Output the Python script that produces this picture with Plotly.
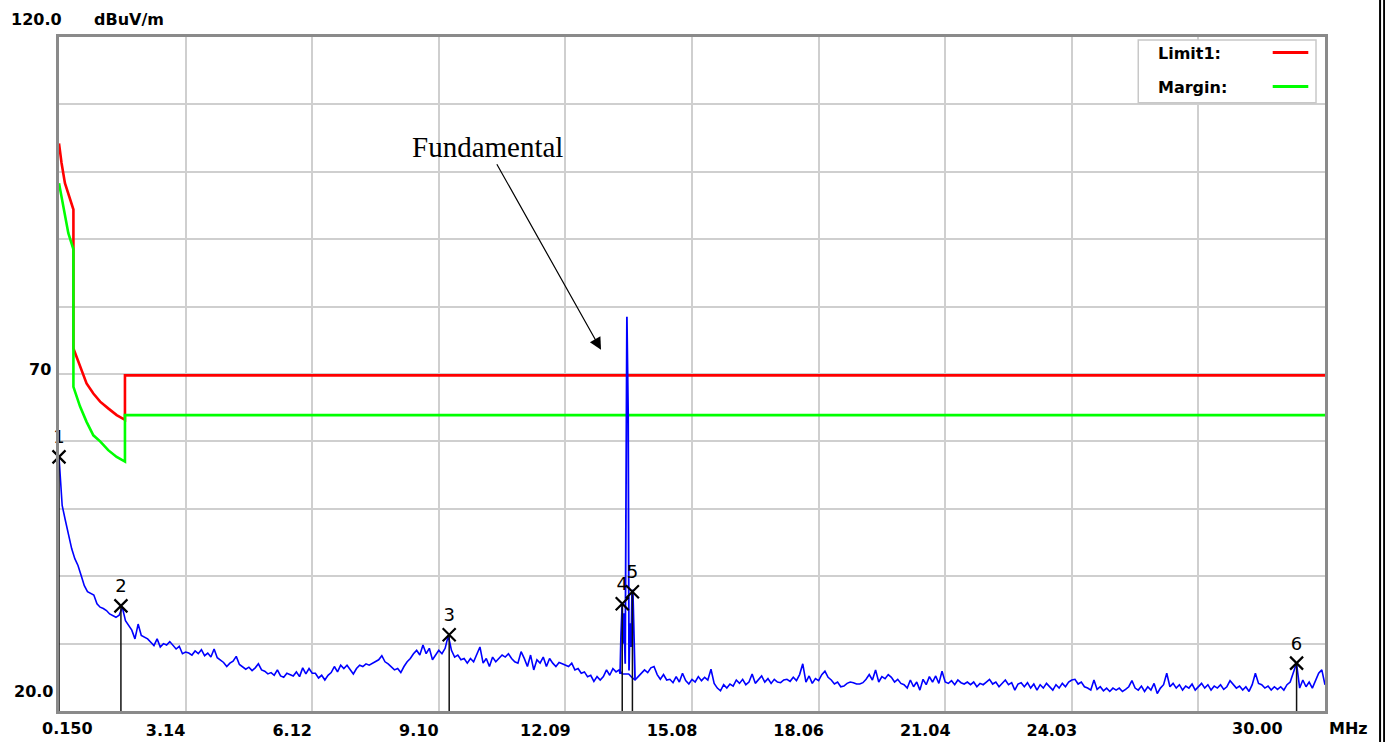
import plotly.graph_objects as go

# ---------------- data ----------------
# Sweep: start frequency and step (MHz) of the measured trace
sweep_start_mhz = 0.15
sweep_step_mhz = 0.074625

level_div1 = [57.7, 50.5, 48.3, 46.0, 44.1, 42.6, 41.6, 40.1, 38.6, 37.7,
              37.4, 37.2, 35.9, 35.4, 35.2, 34.9, 34.4, 34.2, 33.9, 34.2,
              35.4, 33.4, 32.7, 32.0, 30.7, 32.9, 31.2, 31.0, 30.7, 30.2,
              29.7, 30.7, 29.5, 30.0, 29.8, 30.3, 29.7, 29.2, 29.6, 28.5]
level_div2 = [28.75, 28.6, 28.3, 28.9, 28.5, 29.1, 28.2, 28.6, 28.0, 29.2,
              27.9, 27.5, 27.2, 26.6, 27.1, 27.4, 28.1, 26.9, 26.6, 26.2,
              26.5, 26.0, 26.4, 27.0, 26.1, 25.9, 25.5, 25.7, 25.3, 26.1,
              25.2, 25.0, 25.6, 25.4, 25.2, 25.8, 25.1, 26.4, 25.5, 26.3]
level_div3 = [25.6, 25.6, 24.9, 25.3, 24.6, 25.3, 25.7, 26.6, 25.8, 26.8,
              26.3, 26.8, 26.1, 25.5, 26.3, 26.8, 26.6, 27.0, 26.8, 27.1,
              27.3, 27.6, 28.2, 27.3, 27.0, 26.6, 26.1, 26.3, 25.7, 26.6,
              27.3, 27.8, 28.5, 29.0, 28.3, 29.8, 28.5, 29.3, 27.6, 28.3]
level_div4 = [29.0, 28.5, 29.3, 31.2, 29.0, 28.0, 28.3, 27.6, 27.8, 27.1,
              27.8, 27.3, 28.5, 29.5, 27.1, 27.8, 26.6, 28.0, 27.3, 27.8,
              28.3, 28.0, 28.5, 27.8, 27.3, 27.1, 28.8, 27.8, 26.6, 28.3,
              26.1, 27.6, 27.1, 28.0, 26.6, 27.8, 27.1, 26.6, 27.2, 27.0]
level_div5 = [26.8, 26.6, 27.1, 26.1, 26.3, 25.6, 25.8, 25.1, 25.3, 24.4,
              25.1, 24.6, 25.1, 26.1, 25.3, 26.3, 25.8, 26.1, 25.5, 25.5,
              25.5, 25.0, 24.6, 25.1, 25.6, 26.1, 25.7, 26.4, 26.6, 25.4,
              24.7, 25.4, 24.6, 24.7, 24.2, 25.1, 24.3, 25.6, 24.5, 24.0]
level_div6 = [24.7, 24.3, 25.1, 24.5, 25.0, 24.6, 26.2, 24.1, 23.4, 23.0,
              23.9, 23.4, 24.0, 23.7, 24.6, 24.1, 24.7, 23.9, 24.3, 25.5,
              24.1, 24.7, 25.2, 24.3, 24.8, 24.1, 24.7, 24.3, 24.2, 24.6,
              24.7, 24.4, 25.0, 24.5, 25.4, 27.0, 24.3, 25.2, 24.1, 24.8]
level_div7 = [24.5, 25.4, 25.9, 25.0, 24.6, 24.0, 24.3, 23.6, 23.7, 24.1,
              24.3, 24.2, 24.0, 24.0, 24.2, 24.7, 25.4, 24.6, 26.1, 24.3,
              25.1, 24.8, 25.4, 25.0, 24.3, 24.7, 24.1, 23.9, 23.4, 24.6,
              23.6, 24.3, 23.1, 24.7, 23.9, 25.1, 24.3, 25.2, 24.1, 25.9]
level_div8 = [24.3, 24.1, 24.5, 23.9, 24.6, 24.2, 24.0, 24.3, 23.9, 24.3,
              23.6, 24.1, 23.9, 24.3, 24.7, 24.0, 24.3, 23.6, 24.1, 24.6,
              23.9, 24.2, 23.1, 24.0, 24.2, 23.6, 24.2, 23.4, 24.0, 23.1,
              23.9, 23.4, 24.1, 23.6, 23.1, 23.9, 23.4, 24.1, 23.6, 24.3]
level_div9 = [24.6, 24.7, 24.0, 24.3, 23.6, 23.4, 23.1, 24.6, 23.2, 23.6,
              23.0, 23.4, 22.9, 23.4, 23.1, 23.4, 22.9, 23.2, 23.6, 24.5,
              23.4, 23.1, 23.7, 22.9, 23.6, 23.1, 24.1, 22.6, 23.4, 23.9,
              25.6, 23.6, 24.1, 23.4, 23.9, 23.1, 23.7, 23.4, 24.0, 23.1]
level_div10 = [23.6, 24.1, 23.4, 23.9, 23.1, 23.7, 23.4, 23.9, 23.2, 23.6,
               24.5, 23.9, 23.4, 23.7, 23.1, 23.6, 22.9, 23.9, 25.6, 24.1,
               23.9, 23.4, 23.7, 23.1, 23.6, 23.2, 23.6, 23.1, 23.9, 24.3,
               25.6, 27.1, 23.4, 24.6, 23.6, 24.3, 23.4, 24.6, 25.6, 26.1,
               23.9]

# Fine detail around the 13.56 MHz fundamental
spike_freq_mhz = [13.359, 13.38, 13.40, 13.43, 13.45, 13.47, 13.50, 13.52, 13.54,
                  13.57, 13.59, 13.61, 13.64, 13.66, 13.68, 13.71, 13.732]
spike_level_dbuv = [26.1, 25.5, 31.0, 36.0, 30.0, 34.5, 27.0, 63.9, 78.5,
                    64.0, 26.0, 33.0, 29.5, 37.5, 38.0, 30.5, 24.6]

# Limit line and margin line
limit_freq_mhz = [0.15, 0.21, 0.29, 0.37, 0.49, 0.49, 0.645, 0.80, 0.96, 1.12,
                  1.31, 1.51, 1.705, 1.705, 30.0]
limit_level_dbuv = [104.2, 101.3, 98.3, 96.6, 94.4, 73.8, 71.1, 68.6, 67.1, 65.9,
                    64.9, 63.9, 63.2, 69.8, 69.8]
margin_freq_mhz = [0.15, 0.21, 0.29, 0.37, 0.49, 0.49, 0.645, 0.80, 0.96, 1.12,
                   1.31, 1.51, 1.705, 1.705, 30.0]
margin_level_dbuv = [98.3, 96.3, 93.3, 90.9, 88.5, 68.1, 65.2, 62.9, 60.9, 60.0,
                     58.7, 57.7, 57.0, 63.9, 63.9]

# Peak markers
marker_id = ["1", "2", "3", "4", "5", "6"]
marker_freq_mhz = [0.15, 1.61, 9.35, 13.43, 13.67, 29.33]
marker_level_dbuv = [57.7, 35.6, 31.3, 35.9, 37.7, 27.1]

# Axis labels
grid_freq_mhz = [0.15, 3.135, 6.12, 9.105, 12.09, 15.075, 18.06, 21.045, 24.03, 27.015, 30.0]
x_tick_text = ["", "3.14", "6.12", "9.10", "12.09", "15.08", "18.06", "21.04", "24.03", "", ""]
x_end_labels = ["0.150", "30.00"]
y_label_vals = [120, 70, 20]
y_label_text = ["120.0", "70", "20.0"]
legend_names = ["Limit1:", "Margin:"]

# ---------------- figure ----------------
level_dbuv = (level_div1 + level_div2 + level_div3 + level_div4 + level_div5 +
              level_div6 + level_div7 + level_div8 + level_div9 + level_div10)

BOLD = dict(family="DejaVu Sans", size=16, color="black", weight="bold")
RED = "#ff0000"
GREEN = "#00ff00"
BLUE = "#0000ff"

fig = go.Figure()
fig.add_trace(go.Scatter(x=limit_freq_mhz, y=limit_level_dbuv, mode="lines",
                         line=dict(color=RED, width=2.6), name=legend_names[0],
                         hoverinfo="skip"))
fig.add_trace(go.Scatter(x=margin_freq_mhz, y=margin_level_dbuv, mode="lines",
                         line=dict(color=GREEN, width=2.6), name=legend_names[1],
                         hoverinfo="skip"))
fig.add_trace(go.Scatter(x0=sweep_start_mhz, dx=sweep_step_mhz, y=level_dbuv,
                         mode="lines", line=dict(color=BLUE, width=1.6),
                         name="trace"))
fig.add_trace(go.Scatter(x=spike_freq_mhz, y=spike_level_dbuv, mode="lines",
                         line=dict(color=BLUE, width=1.8), name="fundamental"))

stem_x, stem_y = [], []
for f, v in zip(marker_freq_mhz, marker_level_dbuv):
    stem_x += [f, f, None]
    stem_y += [v, y_label_vals[-1], None]
fig.add_trace(go.Scatter(x=stem_x, y=stem_y, mode="lines",
                         line=dict(color="#111111", width=1.5), hoverinfo="skip"))
fig.add_trace(go.Scatter(x=marker_freq_mhz, y=marker_level_dbuv, mode="markers+text",
                         marker=dict(symbol="x-thin", size=13,
                                     line=dict(width=2.2, color="black"), color="black"),
                         text=marker_id, textposition="top center", cliponaxis=False,
                         textfont=dict(family="DejaVu Sans", size=18, color="black")))

# Fundamental annotation
fig.add_annotation(x=12.93, y=73.6, text="Fundamental", showarrow=True,
                   ax=-114, ay=-203, arrowhead=2, arrowsize=2.0, arrowwidth=1.2,
                   arrowcolor="black",
                   font=dict(family="Liberation Serif", size=29, color="black"))

# Y labels
y_shifts = [18, 5, 20]
x_shifts = [5, -6, -4]
for val, txt, ys, xs in zip(y_label_vals, y_label_text, y_shifts, x_shifts):
    fig.add_annotation(x=0, xref="paper", y=val, yref="y", text=txt, showarrow=False,
                       xanchor="right", yanchor="middle", xshift=xs, yshift=ys, font=BOLD)
fig.add_annotation(x=0.026, xref="paper", y=120, yref="y", text="dBuV/m", showarrow=False,
                   xanchor="left", yanchor="middle", yshift=18, font=BOLD)

# X end labels and unit
fig.add_annotation(x=grid_freq_mhz[0], y=0, yref="paper", text=x_end_labels[0],
                   showarrow=False, xanchor="center", yanchor="middle", xshift=8,
                   yshift=-17, font=BOLD)
fig.add_annotation(x=grid_freq_mhz[-1], y=0, yref="paper", text=x_end_labels[1],
                   showarrow=False, xanchor="center", yanchor="middle", xshift=-68,
                   yshift=-17, font=BOLD)
fig.add_annotation(x=1, xref="paper", y=0, yref="paper", text="MHz", showarrow=False,
                   xanchor="left", yanchor="middle", xshift=2, yshift=-17, font=BOLD)

# Custom legend (text left, line sample right)
fig.add_shape(type="rect", xref="paper", yref="paper", x0=0.8525, x1=0.9929,
              y0=0.9025, y1=0.9955, fillcolor="white",
              line=dict(color="#c8c8c8", width=1.5), layer="above")
legend_y = [0.9755, 0.9250]
for name, col, ly in zip(legend_names, [RED, GREEN], legend_y):
    fig.add_annotation(x=0.8665, xref="paper", y=ly, yref="paper", text=name,
                       showarrow=False, xanchor="left", yanchor="middle", font=BOLD)
    fig.add_shape(type="line", xref="paper", yref="paper", x0=0.9587, x1=0.9868,
                  y0=ly + 0.0015, y1=ly + 0.0015, line=dict(color=col, width=3),
                  layer="above")

# Black right border of the picture
for xp in [1.0435, 1.0467]:
    fig.add_shape(type="line", xref="paper", yref="paper", x0=xp, x1=xp,
                  y0=-0.05, y1=1.06, line=dict(color="black", width=2))

fig.update_layout(
    template="none",
    width=1385, height=742, autosize=False,
    margin=dict(l=59, r=60, t=37, b=31, autoexpand=False),
    paper_bgcolor="white", plot_bgcolor="white",
    showlegend=False,
    xaxis=dict(range=[0.15, 30.0], tickmode="array", tickvals=grid_freq_mhz,
               ticktext=x_tick_text, ticks="", showgrid=True, gridcolor="#cfcfcf",
               gridwidth=1.5, zeroline=False, showline=True, mirror=True,
               linecolor="#8a8a8a", linewidth=3, tickfont=BOLD, automargin=False,
               ticklabelshift=-20, ticklabelstandoff=3),
    yaxis=dict(range=[20, 120], tick0=20, dtick=10, showticklabels=False, ticks="",
               showgrid=True, gridcolor="#cfcfcf", gridwidth=1.5, zeroline=False,
               showline=True, mirror=True, linecolor="#8a8a8a", linewidth=3,
               automargin=False),
)

fig.write_html("out.html", config={"displayModeBar": False},
               post_script="document.body.style.margin='0';document.body.style.overflow='hidden';")
